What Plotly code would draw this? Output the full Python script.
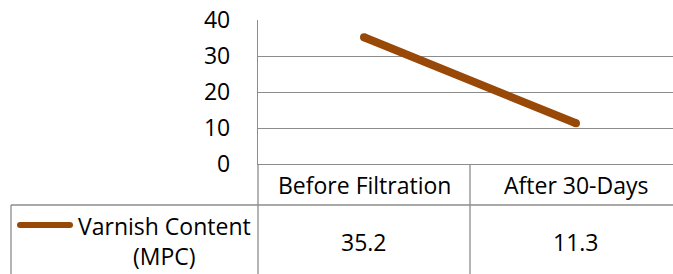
import plotly.graph_objects as go

categories = ["Before Filtration", "After 30-Days"]
values = [35.2, 11.3]
series_name = "Varnish Content (MPC)"
y_ticks = [0, 10, 20, 30, 40]

LINE_COLOR = "#984807"
GRID = "#8c8c8c"
FONT = "Open Sans"
FS = 23

W, H = 673, 274
ML, MT, MB = 258, 20, 110
plot_h = H - MT - MB  # 144
plot_w = W - ML       # 415

# x range: each category is 212 px wide, plot is clipped on the right
cat_px = 212
xr = [-0.5, -0.5 + plot_w / cat_px]

def px_to_py(py):
    return (H - MB - py) / plot_h

def px_to_px(px):
    return (px - ML) / plot_w

def cat_to_paper(c):
    return (c - xr[0]) / (xr[1] - xr[0])

fig = go.Figure()
fig.add_trace(go.Scatter(
    x=categories, y=values, mode="lines+markers", name=series_name,
    line=dict(color=LINE_COLOR, width=8),
    marker=dict(color=LINE_COLOR, size=8),
    showlegend=False, cliponaxis=False,
))

shapes = []
# table borders
shapes.append(dict(type="line", xref="paper", yref="paper",
                   x0=0, x1=1, y0=px_to_py(205), y1=px_to_py(205),
                   line=dict(color=GRID, width=1.3)))
shapes.append(dict(type="line", xref="paper", yref="paper",
                   x0=px_to_px(11), x1=0, y0=px_to_py(205), y1=px_to_py(205),
                   line=dict(color=GRID, width=1.3)))
shapes.append(dict(type="line", xref="paper", yref="paper",
                   x0=0, x1=0, y0=0, y1=px_to_py(H + 2),
                   line=dict(color=GRID, width=1.3)))
shapes.append(dict(type="line", xref="paper", yref="paper",
                   x0=cat_to_paper(0.5), x1=cat_to_paper(0.5), y0=0, y1=px_to_py(H + 2),
                   line=dict(color=GRID, width=1.3)))
shapes.append(dict(type="line", xref="paper", yref="paper",
                   x0=px_to_px(11), x1=px_to_px(11), y0=px_to_py(205), y1=px_to_py(H + 2),
                   line=dict(color=GRID, width=1.3)))
# legend key
shapes.append(dict(type="line", xref="paper", yref="paper",
                   x0=px_to_px(20), x1=px_to_px(70), y0=px_to_py(225), y1=px_to_py(225),
                   line=dict(color=LINE_COLOR, width=6)))
for xk in (20, 70):
    shapes.append(dict(type="circle", xref="paper", yref="paper",
                       x0=px_to_px(xk - 3), x1=px_to_px(xk + 3),
                       y0=px_to_py(228), y1=px_to_py(222),
                       fillcolor=LINE_COLOR, line=dict(width=0)))

annotations = []
for i, c in enumerate(categories):
    annotations.append(dict(x=i, xref="x", y=px_to_py(185), yref="paper",
                            text=c, showarrow=False, xanchor="center", yanchor="middle",
                            font=dict(family=FONT, size=FS, color="#000")))
    annotations.append(dict(x=i, xref="x", y=px_to_py(242), yref="paper",
                            text=f"{values[i]}", showarrow=False, xanchor="center", yanchor="middle",
                            font=dict(family=FONT, size=FS, color="#000")))
annotations.append(dict(x=px_to_px(164), xref="paper", y=px_to_py(241), yref="paper",
                        text="Varnish Content<br>(MPC)", showarrow=False, align="center",
                        xanchor="center", yanchor="middle",
                        font=dict(family=FONT, size=FS, color="#000")))

fig.update_layout(
    width=W, height=H,
    margin=dict(l=ML, r=0, t=MT, b=MB, pad=0),
    paper_bgcolor="white", plot_bgcolor="white",
    font=dict(family=FONT, size=FS, color="#000"),
    xaxis=dict(type="category", range=xr, showgrid=False, showticklabels=False,
               showline=True, linecolor=GRID, linewidth=1.3, zeroline=False, ticks=""),
    yaxis=dict(range=[0, 40], tickvals=y_ticks, showgrid=True, gridcolor=GRID, gridwidth=1.3,
               showline=True, linecolor=GRID, linewidth=1.3, zeroline=False, ticks="",
               ticklabelstandoff=22, tickfont=dict(family=FONT, size=FS, color="#000")),
    shapes=shapes, annotations=annotations,
)

fig.write_html("out.html", config={"displayModeBar": False},
               post_script="document.body.style.margin='0px';document.body.style.overflow='hidden';")
